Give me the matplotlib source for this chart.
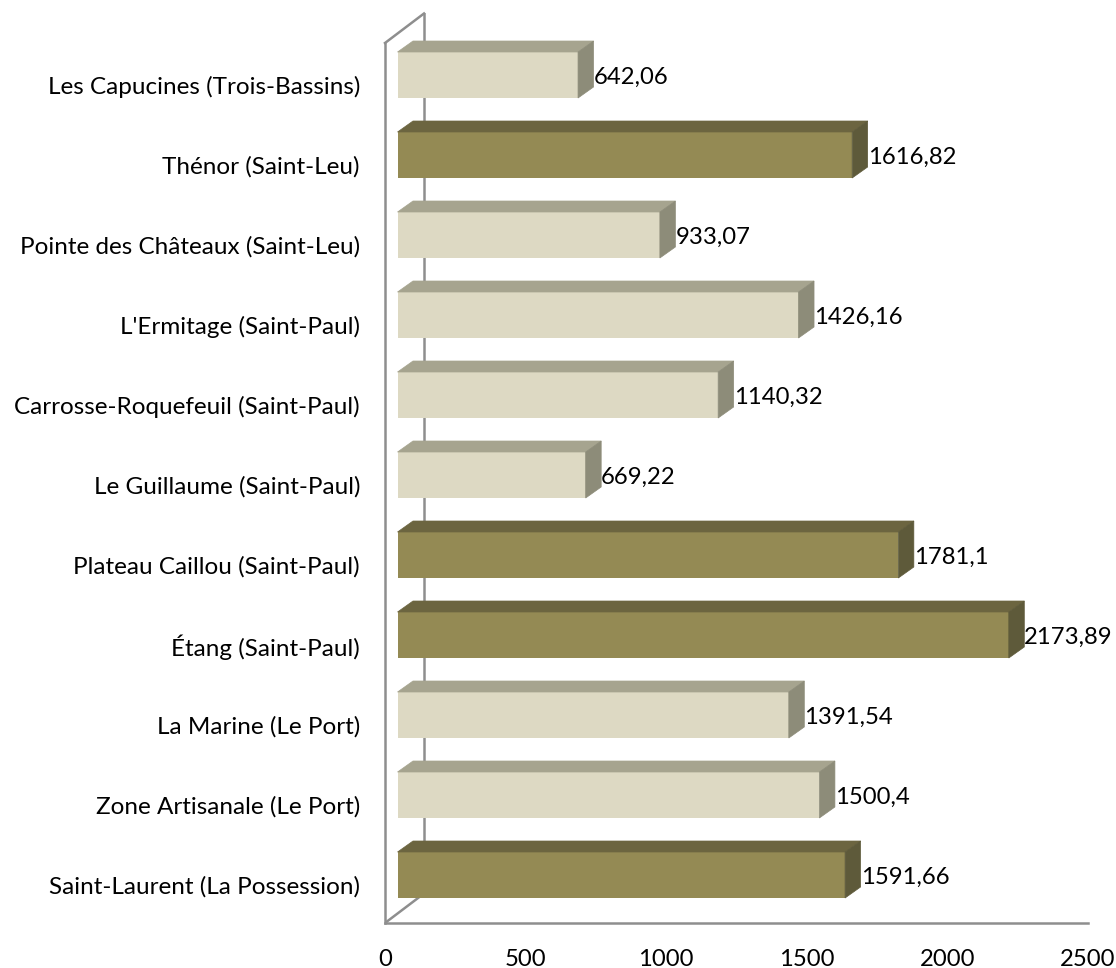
import numpy as np
import matplotlib
matplotlib.use('Agg')
import matplotlib.pyplot as plt
from matplotlib.patches import Polygon

plt.rcParams['font.family'] = ['Lato', 'DejaVu Sans']

# bottom to top, as the axis draws them
places = ['Saint-Laurent (La Possession)', 'Zone Artisanale (Le Port)', 'La Marine (Le Port)',
          'Étang (Saint-Paul)', 'Plateau Caillou (Saint-Paul)', 'Le Guillaume (Saint-Paul)',
          'Carrosse-Roquefeuil (Saint-Paul)', "L'Ermitage (Saint-Paul)",
          'Pointe des Châteaux (Saint-Leu)', 'Thénor (Saint-Leu)', 'Les Capucines (Trois-Bassins)']
values = [1591.66, 1500.4, 1391.54, 2173.89, 1781.1, 669.22, 1140.32, 1426.16, 933.07, 1616.82, 642.06]
dark = [1, 0, 0, 1, 1, 0, 0, 0, 0, 1, 0]
xticks = [0, 500, 1000, 1500, 2000, 2500]

W, H = 1116, 968
fig = plt.figure(figsize=(W / 100, H / 100), dpi=100)
ax = fig.add_axes([385 / W, 1 - 923 / H, 703 / W, 880 / H])
ax.set_xlim(0, 2500)
ax.set_ylim(-0.6, 10.4)

px = 2500 / 703          # data units per pixel, x
py = 1 / 80              # data units per pixel, y
x0 = 12.5 * px           # bars start off the wall
dx, dy = 15.5 * px, 11 * py
h = 46 * py
grey = '#8e8e8e'

# back wall of the 3D box
wx, wy = 39 * px, 29.5 * py
ax.plot([wx, wx], [-0.6 + wy, 10.4 + wy], color=grey, lw=1.8, clip_on=False, zorder=1)
ax.plot([0, wx], [10.4, 10.4 + wy], color=grey, lw=1.8, clip_on=False, zorder=1)
ax.plot([0, wx], [-0.6, -0.6 + wy], color=grey, lw=1.8, zorder=1)

y = np.arange(len(places))
for i, v in enumerate(values):
    front, top, side = ('#948a54', '#6c6540', '#5e5a3a') if dark[i] else ('#ddd9c3', '#a6a48f', '#8d8c79')
    ax.barh(y[i], v, left=x0, height=h, color=front, zorder=3)
    xr = x0 + v
    yb, yt = y[i] - h / 2, y[i] + h / 2
    ax.add_patch(Polygon([(x0, yt), (xr, yt), (xr + dx, yt + dy), (x0 + dx, yt + dy)],
                         color=top, lw=0.5, zorder=3, clip_on=False))
    ax.add_patch(Polygon([(xr, yb), (xr, yt), (xr + dx, yt + dy), (xr + dx, yb + dy)],
                         color=side, lw=0.5, zorder=3, clip_on=False))
    ax.text(xr + dx, y[i] - 2 * py, str(v).replace('.', ','), fontsize=17.2, va='center', ha='left',
            color='black', zorder=4, clip_on=False)

for s in ['top', 'right']:
    ax.spines[s].set_visible(False)
for s in ['left', 'bottom']:
    ax.spines[s].set_color(grey)
    ax.spines[s].set_linewidth(1.8)

ax.set_yticks(y - 10 * py, places)
ax.set_xticks(xticks, [str(t) for t in xticks])
ax.tick_params(axis='y', length=0, pad=18, labelsize=17.5)
ax.tick_params(axis='x', length=0, pad=19, labelsize=17.2)

fig.savefig('out.png', dpi=100)
